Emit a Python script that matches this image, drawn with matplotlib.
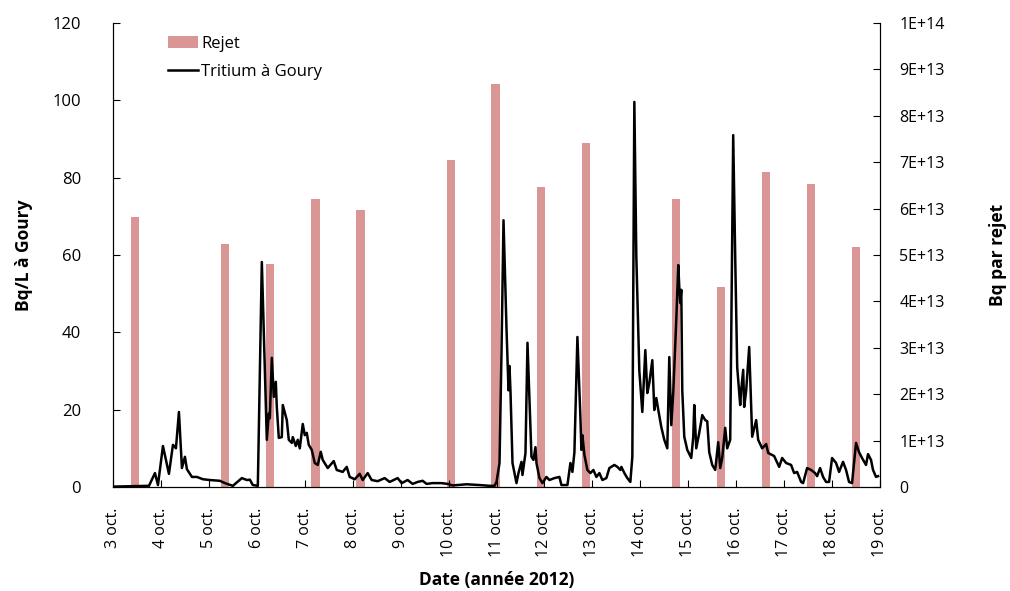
import numpy as np
import matplotlib
matplotlib.use("Agg")
import matplotlib.pyplot as plt

plt.rcParams["font.family"] = ["Open Sans", "DejaVu Sans"]

# --------------------------------------------------------------------------------
# Data (time in hours since 3 oct. 2012 00:00)
# --------------------------------------------------------------------------------
tritium_hours = [
    0, 8.5, 18, 21, 22.5, 25, 28, 30, 31.5, 33, 34.5, 36, 37, 39.5, 42, 45, 48.5,
    53.5, 56, 60, 64.5, 67, 68.5, 70, 72.5, 74.5, 77, 78, 78.5, 79.5, 80.5, 81.5,
    82, 83, 84.5, 85, 87, 88, 89.5, 90, 91.5, 92.5, 93.5, 95, 96, 97, 98, 99.5,
    101, 102.5, 104, 105, 107.5, 110.5, 112, 115, 117, 118.5, 121, 123.5, 125,
    127.5, 129.5, 132.5, 136, 138.5, 142.5, 144.5, 147.5, 150, 152.5, 155, 157,
    160, 164.5, 167.5, 170, 177, 183.5, 188.5, 191, 192, 193.5, 194.5, 195.5, 197,
    198, 198.5, 199, 200, 202, 203, 204.5, 205, 206.5, 207.5, 209.5, 210.5, 211.5,
    212, 213.5, 215, 217, 218.5, 221, 223.5, 224.5, 227.5, 229, 230, 231, 232.5,
    234, 234.5, 235, 236, 237.5, 239, 240.5, 242, 243.5, 245, 247, 248.5, 251,
    252.5, 254, 254.5, 256, 257.5, 259, 260, 261, 262, 263.5, 265, 266.5, 267.5,
    268.5, 270, 271, 272, 273, 274.5, 276, 277.5, 278.5, 279.5, 280.5, 282, 283,
    283.5, 284, 284.5, 285, 286, 287.5, 289.5, 290.5, 291, 292, 293.5, 295, 296.5,
    297.5, 298.5, 300, 301.5, 303, 304, 305, 306.5, 307.5, 309, 310.5, 311.5,
    312.5, 314, 314.5, 315.5, 316, 317, 318.5, 320, 322, 323, 325, 327, 328, 331,
    333.5, 335, 337, 339.5, 341, 342.5, 344.5, 345.5, 347.5, 349.5, 351.5, 352.5,
    354, 355.5, 357, 358.5, 360, 362, 363.5, 365.5, 367, 368.5, 370, 372, 373.5,
    375, 377, 378, 379.5, 380.5, 382, 383,
]
tritium_bql = [
    0.1, 0.2, 0.3, 3.6, 0.5, 10.6, 3.4, 10.9, 10, 19.4, 4.9, 7.8, 4.6, 2.6, 2.6,
    2.0, 1.8, 1.6, 1.0, 0.3, 2.3, 1.8, 1.9, 0.5, 0.3, 58.2, 12.2, 19, 17.8, 33.4,
    23.3, 27.2, 20.7, 12.7, 12.9, 21.2, 17.3, 12.2, 11.4, 12.9, 10.6, 12.2, 10,
    16.3, 13.4, 14, 10.9, 9.6, 6.2, 5.7, 9.1, 7, 4.9, 6.7, 4.4, 3.9, 5.2, 2.6,
    2.0, 3.4, 1.8, 3.6, 1.8, 1.5, 2.3, 1.3, 2.3, 1.0, 1.8, 0.8, 1.3, 1.6, 0.8,
    1.0, 1.0, 0.8, 0.4, 0.7, 0.5, 0.3, 0.3, 1.3, 6.2, 35, 69, 41, 25, 31.3, 24.6,
    6.2, 1.0, 3.6, 6.5, 3.1, 8.8, 37.3, 7.8, 7, 10.3, 6.2, 2.3, 1.0, 2.6, 1.8,
    2.3, 2.6, 0.5, 0.5, 6.2, 3.9, 9, 38.8, 18, 9.6, 13.4, 8.3, 4.4, 3.6, 4.4,
    2.6, 3.6, 1.8, 2.3, 4.9, 5.7, 5.2, 4.4, 5.2, 3.6, 2.3, 1.3, 7.8, 99.6, 59.5,
    30, 19.4, 35.4, 24.3, 26.9, 32.8, 19.9, 23, 19.9, 15.5, 12.2, 10, 33.6, 16,
    24.6, 43.2, 57.4, 51.7, 47.6, 51, 25, 13, 9.6, 7.5, 13, 21.2, 10, 14, 18.6,
    17.3, 17, 9, 5.7, 4.4, 11.6, 4.9, 7.5, 15.3, 10, 12.2, 91, 59.5, 31, 21.2,
    25, 30.3, 20.7, 25, 36.2, 13, 17.3, 12.2, 10, 11.1, 8.8, 8, 5.2, 7.5, 6.2,
    5.7, 3.6, 3.9, 1.3, 1.0, 4.9, 4.4, 3.6, 2.8, 4.9, 2.6, 1.3, 1.3, 7.5, 6.2,
    3.9, 6.5, 4.4, 1.3, 1.0, 11.4, 9, 7.5, 5.7, 8.5, 7, 4.4, 2.6, 2.8,
]

rejet_hours = [10.9, 56.1, 78.75, 101.35, 123.9, 169.15, 191.5, 214.15,
               236.75, 281.85, 304.4, 327, 349.6, 372.1]
rejet_bq = [5.82e13, 5.24e13, 4.81e13, 6.2e13, 5.98e13, 7.05e13, 8.69e13,
            6.47e13, 7.41e13, 6.2e13, 4.32e13, 6.8e13, 6.54e13, 5.17e13]

day_ticks = list(range(3, 20))
day_labels = [f"{d} oct." for d in day_ticks]
right_ticks = [i * 1e13 for i in range(11)]
right_labels = ["0"] + [f"{i}E+13" for i in range(1, 10)] + ["1E+14"]

# --------------------------------------------------------------------------------
# Plot
# --------------------------------------------------------------------------------
fig = plt.figure(figsize=(10.1, 5.91), dpi=100)
ax = fig.add_axes([0.1119, 0.176, 0.7594, 0.785])
ax2 = ax.twinx()

t_line = 3 + np.array(tritium_hours) / 24
t_bar = 3 + np.array(rejet_hours) / 24

bars = ax2.bar(t_bar, rejet_bq, width=0.173, color="#D99694", label="Rejet")
line, = ax.plot(t_line, tritium_bql, color="black", lw=1.8,
                label="Tritium à Goury")

# line above the bars
ax.set_zorder(ax2.get_zorder() + 1)
ax.patch.set_visible(False)

ax.set_xlim(3, 19)
ax.set_ylim(0, 120)
ax2.set_ylim(0, 1e14)

ax.set_xticks(day_ticks)
ax.set_xticklabels(day_labels, rotation=90, fontsize=11.5)
ax.set_yticks(range(0, 121, 20))
ax.tick_params(axis="y", direction="in", pad=23, labelsize=12, length=5)
ax.tick_params(axis="x", direction="in", pad=15, length=5)
ax2.set_yticks(right_ticks)
ax2.set_yticklabels(right_labels)
ax2.tick_params(axis="y", direction="in", pad=14, labelsize=11.5, length=5)

for a in (ax, ax2):
    a.spines["top"].set_visible(False)

ax.set_ylabel("Bq/L à Goury", fontsize=12.5, fontweight="bold", labelpad=14)
ax2.set_ylabel("Bq par rejet", fontsize=12.5, fontweight="bold", labelpad=32)
ax.set_xlabel("Date (année 2012)", fontsize=12.5, fontweight="bold", labelpad=10)

ax.legend([bars, line], ["Rejet", "Tritium à Goury"], loc="upper left",
          bbox_to_anchor=(0.052, 1.005), frameon=False, fontsize=12,
          handlelength=1.8, handletextpad=0.2, labelspacing=0.75)

fig.savefig("out.png", dpi=100)
